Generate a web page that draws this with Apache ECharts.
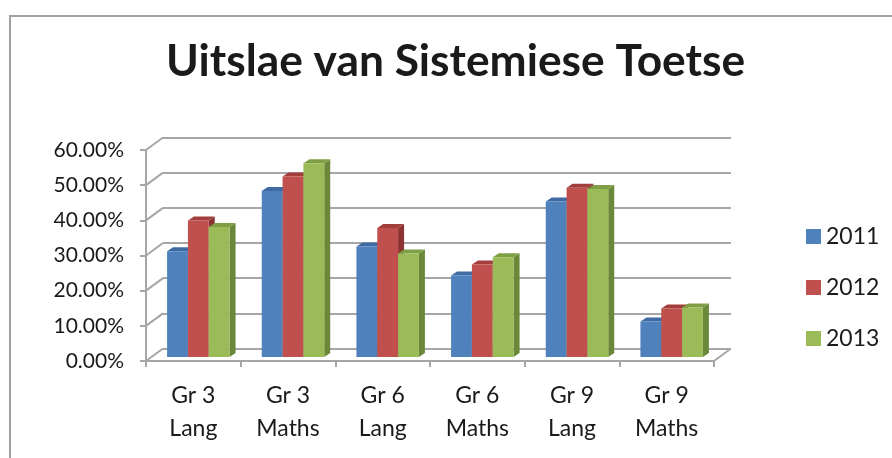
<!DOCTYPE html>
<html>
<head>
<meta charset="utf-8">
<script src="https://cdn.jsdelivr.net/npm/echarts@6/dist/echarts.min.js"></script>
<style>html,body{margin:0;padding:0;background:#fff;}#c{width:892px;height:458px;}</style>
</head>
<body>
<div id="c"></div>
<script>
var categories = ['Gr 3\nLang', 'Gr 3\nMaths', 'Gr 6\nLang', 'Gr 6\nMaths', 'Gr 9\nLang', 'Gr 9\nMaths'];
var years = ['2011', '2012', '2013'];
var v2011 = [30.1, 47.2, 31.4, 23.2, 44.2, 10.1];
var v2012 = [38.8, 51.3, 36.7, 26.3, 48.1, 13.8];
var v2013 = [37.0, 55.1, 29.4, 28.4, 47.8, 14.1];
var yTicks = [0, 10, 20, 30, 40, 50, 60];

var seriesValues = [v2011, v2012, v2013];
var faceColors = ['#4F81BD', '#C0504D', '#9BBB59'];
var capColors = ['#3E6BA3', '#A23E3B', '#7F9F44'];
var sideColors = ['#345B8C', '#8A3331', '#6A8838'];
var DX = 17, DY = 12.5; // wall depth
var BD = [6, 4];        // bar depth

var FONT = 'Lato';

function barRenderer(k) {
  return function (params, api) {
    var cat = api.value(0), val = api.value(1);
    var top = api.coord([cat, val]);
    var base = api.coord([cat, 0]);
    var band = api.size([1, 0])[0];
    var w = band * 0.22;
    var x0 = top[0] - 1.5 * w + k * w;
    var x1 = x0 + w;
    var yt = top[1], yb = base[1];
    return {
      type: 'group',
      children: [
        { type: 'polygon', shape: { points: [[x1, yt], [x1 + BD[0], yt - BD[1]], [x1 + BD[0], yb - BD[1]], [x1, yb]] },
          style: { fill: sideColors[k] } },
        { type: 'polygon', shape: { points: [[x0, yt], [x1, yt], [x1 + BD[0], yt - BD[1]], [x0 + BD[0], yt - BD[1]]] },
          style: { fill: capColors[k] } },
        { type: 'rect', shape: { x: x0, y: yt, width: w, height: yb - yt },
          style: { fill: faceColors[k] } }
      ]
    };
  };
}

var series = [];
// diagonal connectors between front axis and back wall
series.push({
  type: 'custom', xAxisIndex: 0, yAxisIndex: 0, silent: true, z: 1,
  data: yTicks.map(function (t) { return [0, t]; }),
  renderItem: function (params, api) {
    var cs = params.coordSys;
    var y = api.coord([0, api.value(1)])[1];
    var ch = [{ type: 'line', shape: { x1: cs.x, y1: y, x2: cs.x + DX, y2: y - DY },
      style: { stroke: '#A6A6A6', lineWidth: 2 } }];
    if (api.value(1) === 0) {
      ch.push({ type: 'line', shape: { x1: cs.x + cs.width, y1: y, x2: cs.x + cs.width + DX, y2: y - DY },
        style: { stroke: '#A6A6A6', lineWidth: 2 } });
    }
    return { type: 'group', children: ch };
  }
});
for (var k = 0; k < 3; k++) {
  series.push({
    type: 'custom', name: years[k], xAxisIndex: 2, yAxisIndex: 2, z: 3,
    itemStyle: { color: faceColors[k] },
    data: seriesValues[k].map(function (v, i) { return [i, v]; }),
    renderItem: barRenderer(k)
  });
}

var chart = echarts.init(document.getElementById('c'), null, { renderer: 'canvas' });
chart.setOption({
  backgroundColor: '#ffffff',
  animation: false,
  title: {
    text: 'Uitslae van Sistemiese Toetse',
    left: 166, top: 40,
    padding: 0,
    textStyle: { fontFamily: FONT, fontWeight: 'bold', fontSize: 44.3, color: '#1a1a1a' }
  },
  legend: {
    data: years,
    orient: 'vertical',
    left: 801, top: 220,
    itemWidth: 15, itemHeight: 15, itemGap: 28,
    icon: 'rect',
    textStyle: { fontFamily: FONT, fontSize: 23, color: '#1a1a1a', lineHeight: 21 }
  },
  graphic: [{
    type: 'rect', shape: { x: 10, y: 16, width: 900, height: 500 },
    style: { fill: 'none', stroke: '#A0A0A0', lineWidth: 2 }, z: 0, silent: true
  }],
  grid: [
    { left: 146, right: 178, top: 150, bottom: 97 },       // front
    { left: 163, right: 161, top: 137.5, bottom: 109.5 },  // back wall
    { left: 151, right: 173, top: 146, bottom: 101 }       // bars
  ],
  xAxis: [
    { type: 'category', gridIndex: 0, data: categories,
      axisLine: { lineStyle: { color: '#A6A6A6', width: 2 } },
      axisTick: { show: true, length: 6, lineStyle: { color: '#A6A6A6', width: 2 } },
      axisLabel: { fontFamily: FONT, fontSize: 23, color: '#1a1a1a', lineHeight: 33, margin: 18 } },
    { type: 'category', gridIndex: 1, data: categories, show: false },
    { type: 'category', gridIndex: 2, data: categories, show: false }
  ],
  yAxis: [
    { type: 'value', gridIndex: 0, min: 0, max: 60, interval: 10,
      axisLine: { show: true, lineStyle: { color: '#A6A6A6', width: 2 } },
      axisTick: { show: true, length: 6, lineStyle: { color: '#A6A6A6', width: 2 } },
      splitLine: { show: false },
      axisLabel: { fontFamily: FONT, fontSize: 21, color: '#1a1a1a', margin: 22,
        formatter: function (v) { return v.toFixed(2) + '%'; } } },
    { type: 'value', gridIndex: 1, min: 0, max: 60, interval: 10,
      axisLine: { show: false }, axisTick: { show: false }, axisLabel: { show: false },
      splitLine: { show: true, lineStyle: { color: '#A6A6A6', width: 2 } } },
    { type: 'value', gridIndex: 2, min: 0, max: 60, interval: 10, show: false,
      splitLine: { show: false } }
  ],
  series: series
});
</script>
</body>
</html>
